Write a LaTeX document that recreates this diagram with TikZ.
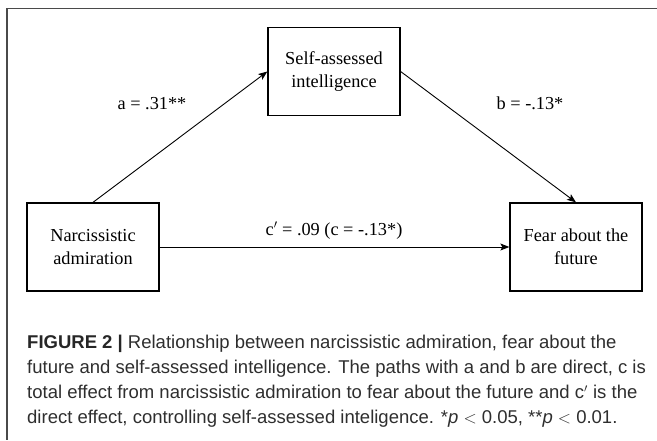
\documentclass[tikz,border=0pt]{standalone}
\usepackage{fontspec}
\setmainfont{Liberation Serif}
\newfontfamily\capfont{Liberation Sans}
\usetikzlibrary{arrows.meta}
\definecolor{framegray}{HTML}{4A4A4A}
\definecolor{captext}{HTML}{2E2E2E}
\tikzset{
  varbox/.style={draw=black, line width=1.3pt, minimum width=132pt, minimum height=88pt,
    inner sep=0pt, align=center, font=\fontsize{18.3pt}{23pt}\selectfont},
  pathlbl/.style={inner sep=0pt, anchor=base, font=\fontsize{18.3pt}{23pt}\selectfont},
  conn/.style={draw=black, line width=0.9pt, -{Stealth[length=9pt,width=7pt,inset=2pt]}},
  capline/.style={inner sep=0pt, anchor=base west, text=captext, font=\capfont\fontsize{18.5pt}{25pt}\selectfont}
}
\begin{document}
\begin{tikzpicture}[x=1pt,y=-1pt]
\useasboundingbox (0,0) rectangle (657,440);
% frame
\draw[framegray, line width=1.6pt] (657,8.3) -- (7,8.3) -- (7,440);
% boxes
\node[varbox] (sai) at (334,71.5) {Self-assessed\\intelligence};
\node[varbox] (na) at (93,247) {Narcissistic\\admiration};
\node[varbox] (faf) at (576,247) {Fear about the\\future};
% connectors
\draw[conn] (na.north) -- (sai.west);
\draw[conn] (sai.east) -- (faf.north);
\draw[conn] (na.east) -- (faf.west);
% labels
\node[pathlbl] (la) at (152,109.3) {a = .31**};
\node[pathlbl] (lb) at (530,109.3) {b = -.13*};
\node[pathlbl] (lc) at (334,235) {c$'$ = .09 (c = -.13*)};
% caption
\node[capline] (c1) at (27,348.3) {\textbf{\color{black!85}FIGURE 2 |} Relationship between narcissistic admiration, fear about the};
\node[capline] (c2) at (27,373.3) {future and self-assessed intelligence. The paths with a and b are direct, c is};
\node[capline] (c3) at (27,398.5) {total effect from narcissistic admiration to fear about the future and c$'$ is the};
\node[capline] (c4) at (27,423.3) {direct effect, controlling self-assessed inteligence. *\textit{p} $<$ 0.05, **\textit{p} $<$ 0.01.};
\end{tikzpicture}
\end{document}
